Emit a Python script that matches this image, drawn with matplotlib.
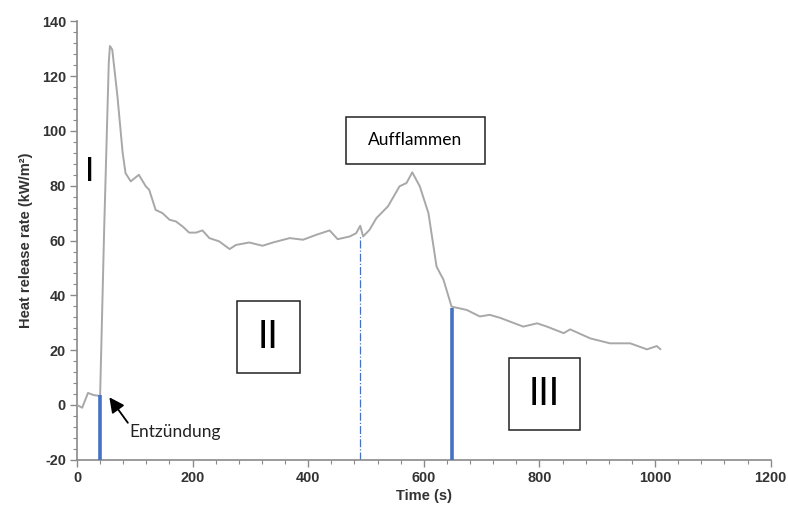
import matplotlib
matplotlib.use("Agg")
import matplotlib.pyplot as plt
from matplotlib.patches import Rectangle
from matplotlib.ticker import MultipleLocator

plt.rcParams["font.family"] = ["Liberation Sans", "DejaVu Sans"]
plt.rcParams["font.weight"] = "bold"
plt.rcParams["axes.unicode_minus"] = False

# ---- data ----
time_s = [0, 9, 19, 29, 40, 47, 55, 57, 61, 70, 79, 84, 93, 107, 119, 125, 136,
          148, 160, 171, 183, 194, 206, 217, 229, 246, 264, 275, 298, 321, 339,
          368, 391, 414, 437, 451, 472, 483, 490, 495, 506, 518, 538, 558, 570,
          580, 593, 608, 622, 634, 648, 674, 697, 714, 732, 772, 796, 813, 842,
          853, 888, 922, 957, 986, 1003, 1009]
hrr = [0, -1, 4.4, 3.6, 3.3, 64, 125, 131, 129.7, 112.6, 92, 84.6, 81.6, 84,
       79.8, 78.5, 71.2, 70, 67.6, 67, 65.1, 62.9, 62.9, 63.7, 60.9, 59.7, 56.9,
       58.4, 59.3, 58.1, 59.3, 60.9, 60.3, 62.1, 63.7, 60.5, 61.5, 62.7, 65.4,
       61.5, 63.9, 68.2, 72.5, 79.8, 81, 84.9, 79.8, 70, 50.5, 45.7, 35.9, 34.7,
       32.3, 32.9, 31.8, 28.6, 29.8, 28.6, 26.2, 27.6, 24.3, 22.5, 22.5, 20.3,
       21.5, 20.4]

ignition_t, ignition_hrr = 40, 3.5
flashover_t, flashover_hrr = 490, 62
phase3_t, phase3_hrr = 648, 35.5

x_ticks = [0, 200, 400, 600, 800, 1000, 1200]
y_ticks = [-20, 0, 20, 40, 60, 80, 100, 120, 140]

fig = plt.figure(figsize=(7.88, 5.08), dpi=100)
ax = fig.add_axes([0.0977, 0.0949, 0.8803, 0.8631])

ax.plot(time_s, hrr, color="#a8a8a8", lw=1.4, zorder=3)

blue = "#4472C4"
ymin = -20
ax.plot([ignition_t, ignition_t], [ymin, ignition_hrr], color=blue, lw=2.6, zorder=4, solid_capstyle="butt")
ax.plot([phase3_t, phase3_t], [ymin, phase3_hrr], color=blue, lw=2.6, zorder=4, solid_capstyle="butt")
ax.plot([flashover_t, flashover_t], [ymin, flashover_hrr], color=blue, lw=0.9, ls="-.", zorder=2)

ax.set_xlim(0, 1200)
ax.set_ylim(-20, 140)
ax.set_xticks(x_ticks)
ax.set_yticks(y_ticks)
ax.xaxis.set_minor_locator(MultipleLocator(40))
ax.yaxis.set_minor_locator(MultipleLocator(4))

for s in ["top", "right"]:
    ax.spines[s].set_visible(False)
for s in ["left", "bottom"]:
    ax.spines[s].set_color("#8a8a8a")
    ax.spines[s].set_linewidth(1.2)

ax.tick_params(which="major", length=5, width=1, color="#8a8a8a", direction="out",
               labelsize=10.4, labelcolor="#333333", pad=3)
ax.tick_params(which="minor", length=3, width=0.8, color="#8a8a8a", direction="out")

ax.set_xlabel("Time (s)", fontsize=10.5, fontweight="bold", color="#333333", labelpad=3)
ax.set_ylabel("Heat release rate (kW/m²)", fontsize=10.5, fontweight="bold",
              color="#333333", labelpad=6)

ann_font = ["Lato", "DejaVu Sans"]
# Phase I label
ax.text(21, 85, "I", fontsize=24, family=ann_font, fontweight="normal",
        ha="center", va="center", color="black")

def box(x0, x1, y0, y1, label, size):
    ax.add_patch(Rectangle((x0, y0), x1 - x0, y1 - y0, facecolor="white",
                           edgecolor="#222222", lw=1.1, zorder=5))
    ax.text((x0 + x1) / 2, (y0 + y1) / 2, label, fontsize=size, family=ann_font,
            fontweight="normal", ha="center", va="center", color="black", zorder=6)

box(277, 385, 11.7, 38.0, "II", 27)
box(747, 870, -9.3, 17.1, "III", 27)
box(465, 706, 88.1, 105.2, "Aufflammen", 12.5)

# Entzündung arrow + label
ax.annotate("", xy=(56, 2.8), xytext=(88, -6.5),
            arrowprops=dict(arrowstyle="-|>,head_length=0.9,head_width=0.45",
                            color="black", lw=1.3, shrinkA=0, shrinkB=0),
            zorder=6)
ax.text(90, -10, "Entzündung", fontsize=12.5, family=ann_font, fontweight="normal",
        color="#222222", ha="left", va="center", zorder=6)

fig.savefig("out.png", dpi=100)
